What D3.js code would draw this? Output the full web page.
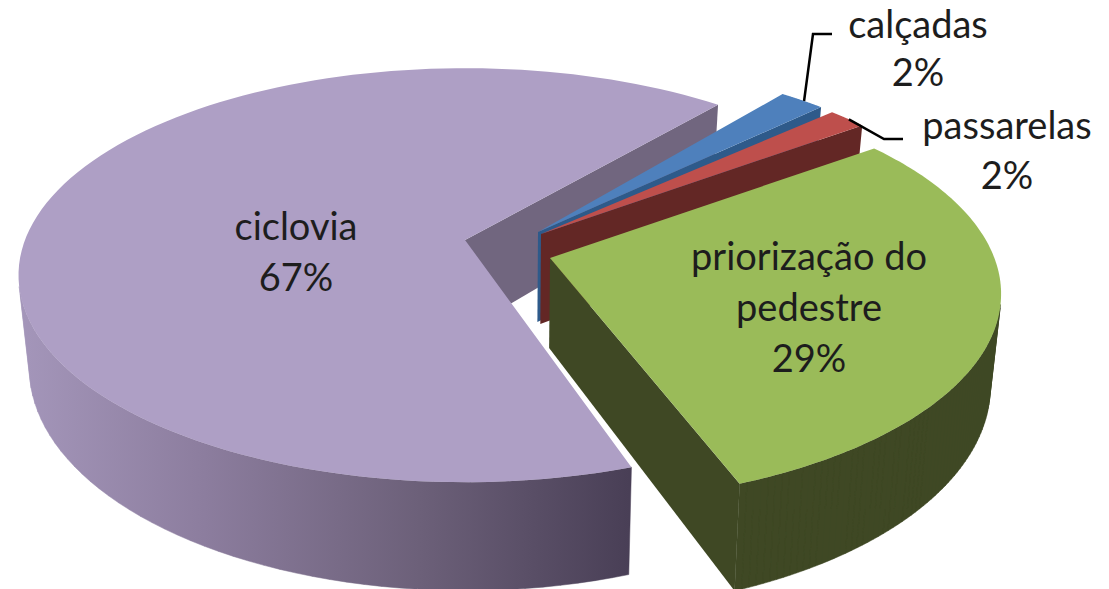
<!DOCTYPE html>
<html>
<head>
<meta charset="utf-8">
<script src="https://cdn.jsdelivr.net/npm/d3@7"></script>
<style>
  html, body { margin: 0; padding: 0; background: #fff; }
  text { font-family: Lato, "Open Sans", sans-serif; fill: #1d1d1d; }
</style>
</head>
<body>
<div id="chart"></div>
<script>
const categories = ["ciclovia", "calçadas", "passarelas", "priorização do pedestre"];
const percents = [67, 2, 2, 29];

const topColors = ["#ae9fc5", "#4e80bc", "#be4f4c", "#9abb59"];
const faceColors = ["#71667f", "#2e5a8a", "#632725", "#3f4824"];
const wallColors = ["url(#wall)", "#2e5a8a", "#632725", "#3f4824"];

// exploded slices: where each apex ended up, how far its rim reaches, small rotation
const apexes = [[465, 240], [538, 232], [541, 234], [550, 258]];
const rimScale = [1, 1, 1, 1.01];
const nudge = [0, -1.5, 0, 0];

const labels = [
  {lines: ["ciclovia", "67%"], x: 296, y: 240, step: 51},
  {lines: ["calçadas", "2%"], x: 918, y: 38, step: 48},
  {lines: ["passarelas", "2%"], x: 1007, y: 139, step: 50},
  {lines: ["priorização do", "pedestre", "29%"], x: 809, y: 270, step: 51}
];

const width = 1109, height = 589;
const R = 440, K = 201, persp = 0.17, depth = 90, vanishX = 510, shrink = 0.022;

// pie angle (deg) to drawn angle (deg), the 3d view skews the sweep a little
const turn = d3.scaleLinear()
  .domain([0, 241.2, 248.4, 255.6, 360])
  .range([161.5, 400.5, 407.5, 413.5, 519]);

function project(apex, deg, r, z) {
  const a = deg * Math.PI / 180;
  const X = r * Math.sin(a), Y = -r * Math.cos(a);
  const s = 1 / (1 - persp * Y);
  const x = apex[0] + X * R * s;
  const y = apex[1] + Y * K * s + z * depth * s;
  return [vanishX + (x - vanishX) * (1 - shrink * z), y];
}

const svg = d3.select("#chart").append("svg")
  .attr("width", width)
  .attr("height", height)
  .style("display", "block");

const grad = svg.append("defs").append("linearGradient")
  .attr("id", "wall")
  .attr("gradientUnits", "userSpaceOnUse")
  .attr("x1", 20).attr("x2", 635).attr("y1", 0).attr("y2", 0);
grad.append("stop").attr("offset", 0).attr("stop-color", "#a496ba");
grad.append("stop").attr("offset", 0.3).attr("stop-color", "#8c7d9e");
grad.append("stop").attr("offset", 0.65).attr("stop-color", "#6c6079");
grad.append("stop").attr("offset", 1).attr("stop-color", "#483e55");

const pie = d3.pie().sort(null).value(d => d)
  .startAngle(0).endAngle(2 * Math.PI);
const arcs = pie(percents);
const line = d3.line();
const steps = 120;

function rim(i, z) {
  const a0 = turn(arcs[i].startAngle * 180 / Math.PI) + nudge[i];
  const a1 = turn(arcs[i].endAngle * 180 / Math.PI) + nudge[i];
  return d3.range(0, steps + 1).map(k => project(apexes[i], a0 + (a1 - a0) * k / steps, rimScale[i], z));
}

arcs.forEach((d, i) => {
  const g = svg.append("g");
  const apexTop = project(apexes[i], 0, 0, 0);
  const apexLow = project(apexes[i], 0, 0, 1);
  const top = rim(i, 0), low = rim(i, 1);

  // cut face at the clockwise end
  g.append("path")
    .attr("d", line([apexTop, top[steps], low[steps], apexLow]) + "Z")
    .attr("fill", faceColors[i]);

  // outer wall, only the quads that face the viewer, all in one path
  const quads = d3.range(0, steps)
    .map(k => [top[k], top[k + 1], low[k + 1], low[k]])
    .filter(q => d3.polygonArea(q) > 0);
  g.append("path")
    .attr("d", quads.map(q => line(q) + "Z").join(""))
    .attr("fill", wallColors[i])
    .attr("stroke", wallColors[i])
    .attr("stroke-width", 0.5);

  // top surface
  g.append("path")
    .attr("d", line([apexTop].concat(top)) + "Z")
    .attr("fill", topColors[i]);
});

// leader lines for the two thin slices
const midRim = i => rim(i, 0)[Math.floor(steps * 0.55)];
[[midRim(1), [813, 34], [832, 34]], [midRim(2), [884, 139], [903, 139]]].forEach(p => {
  svg.append("path")
    .attr("d", line(p))
    .attr("fill", "none")
    .attr("stroke", "#000")
    .attr("stroke-width", 2.5);
});

labels.forEach(l => {
  const t = svg.append("text")
    .attr("text-anchor", "middle")
    .attr("font-size", 38);
  l.lines.forEach((s, k) => {
    t.append("tspan")
      .attr("x", l.x)
      .attr("y", l.y + k * l.step)
      .text(s);
  });
});
</script>
</body>
</html>
